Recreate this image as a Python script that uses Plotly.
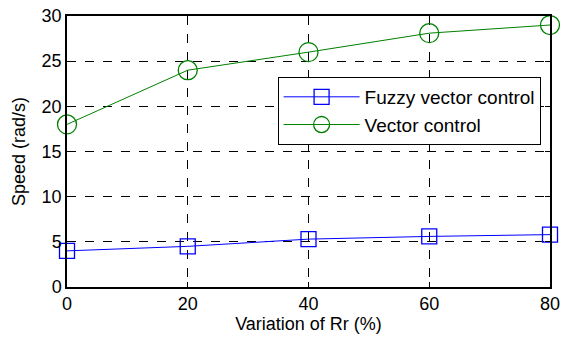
import plotly.graph_objects as go

variation = [0, 20, 40, 60, 80]
fuzzy_speed = [4.0, 4.5, 5.3, 5.6, 5.8]
vector_speed = [18.0, 24.0, 26.0, 28.1, 29.0]

x_ticks = [0, 20, 40, 60, 80]
y_ticks = [0, 5, 10, 15, 20, 25, 30]

FONT = "Liberation Sans, Arial, sans-serif"

fig = go.Figure()
fig.add_trace(go.Scatter(
    x=variation, y=fuzzy_speed, mode="lines+markers", name="Fuzzy vector control",
    line=dict(color="#0000ff", width=1),
    marker=dict(symbol="square-open", size=15, color="#0000ff", line=dict(width=1.3)),
    cliponaxis=False,
))
fig.add_trace(go.Scatter(
    x=variation, y=vector_speed, mode="lines+markers", name="Vector control",
    line=dict(color="#008000", width=1),
    marker=dict(symbol="circle-open", size=19, color="#008000", line=dict(width=1.3)),
    cliponaxis=False,
))

axis_common = dict(
    showline=True, linecolor="black", linewidth=1.5, mirror="ticks",
    ticks="inside", ticklen=5, tickcolor="black",
    showgrid=True, gridcolor="black", griddash="dash", gridwidth=1,
    zeroline=False, automargin=False,
    tickfont=dict(family=FONT, size=18, color="black"),
)

fig.update_xaxes(
    range=[0, 80], tickvals=x_ticks,
    title=dict(text="Variation of Rr (%)", standoff=4,
               font=dict(family=FONT, size=18, color="black")),
    **axis_common,
)
fig.update_yaxes(
    range=[0, 30], tickvals=y_ticks,
    title=dict(text="Speed (rad/s)", standoff=11,
               font=dict(family=FONT, size=18, color="black")),
    **axis_common,
)

fig.update_layout(
    width=563, height=340,
    margin=dict(l=67, r=13, t=16, b=53, autoexpand=False),
    plot_bgcolor="white", paper_bgcolor="white",
    showlegend=True,
    legend=dict(
        x=0.436, y=0.775, xanchor="left", yanchor="top",
        bgcolor="white", bordercolor="black", borderwidth=1,
        font=dict(family=FONT, size=19, color="black"),
        itemwidth=76, tracegroupgap=0,
    ),
)

fig.write_html("out.html")
